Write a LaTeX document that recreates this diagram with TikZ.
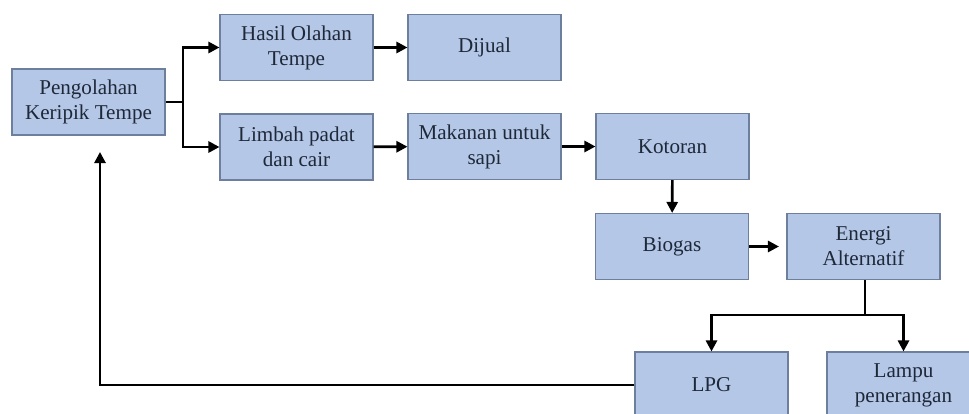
\documentclass[tikz,border=0pt]{standalone}
\usepackage{fontspec}
\setmainfont{Liberation Serif}
\usepackage{xcolor}
\usetikzlibrary{arrows.meta}
\definecolor{boxfill}{HTML}{B4C7E7}
\definecolor{boxline}{HTML}{6E7F9E}
\definecolor{boxtext}{HTML}{1E2838}

\begin{document}
\begin{tikzpicture}[
  font=\fontsize{12}{14.2}\selectfont,
  box/.style={draw=boxline, line width=0.6pt, fill=boxfill, text=boxtext, align=center,
    inner sep=0pt, minimum width=3.06cm, minimum height=1.32cm},
  link/.style={line width=1.5pt},
  flow/.style={link, -{Triangle[length=2.2mm,width=2.2mm]}}]

\clip (0,0) rectangle (19.38,-8.26);
\useasboundingbox (0,0) rectangle (19.38,-8.26);

\node[box] (olah) at (1.77,-2.04) {Pengolahan\\Keripik Tempe};
\node[box] (hasil) at (5.93,-0.95) {Hasil Olahan\\Tempe};
\node[box] (jual) at (9.69,-0.95) {Dijual};
\node[box] (limbah) at (5.93,-2.94) {Limbah padat\\dan cair};
\node[box] (pakan) at (9.69,-2.93) {Makanan untuk\\sapi};
\node[box] (kotor) at (13.45,-2.93) {Kotoran};
\node[box] (biogas) at (13.44,-4.93) {Biogas};
\node[box] (energi) at (17.27,-4.93) {Energi\\Alternatif};
\node[box] (lpg) at (14.23,-7.70) {LPG};
\node[box] (lampu) at (18.07,-7.70) {Lampu\\penerangan};

\coordinate (fork) at (3.66,-2.04);
\coordinate (split) at (17.30,-6.30);
\coordinate (back) at (2.00,-3.04);

\draw[link] (olah.east) -- (fork);
\draw[flow] (fork) |- (hasil);
\draw[flow] (fork) |- (limbah);
\draw[flow] (hasil) -- (jual);
\draw[flow] (limbah) -- (pakan);
\draw[flow] (pakan) -- (kotor);
\draw[flow] (kotor) -- (biogas);
\draw[flow, shorten >=0.15cm] (biogas) -- (energi);
\draw[link] (energi.south -| split) -- (split);
\draw[flow] (split) -| (lpg);
\draw[flow] (split) -| (lampu);
\draw[flow] (lpg.west) -| (back);
\end{tikzpicture}
\end{document}
